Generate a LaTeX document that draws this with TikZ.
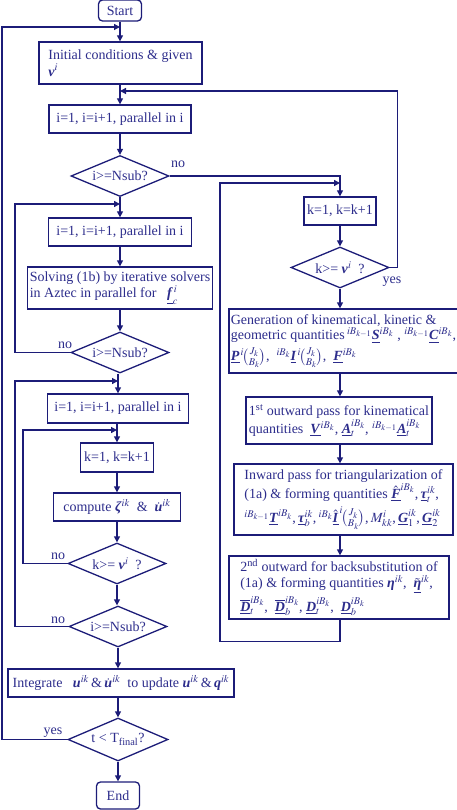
\documentclass[tikz,border=0pt]{standalone}
\usepackage{amsmath}
\usepackage{mathptmx}
\usepackage{fontspec}
\setmainfont{Liberation Serif}
\usetikzlibrary{arrows.meta,shapes.geometric}
\definecolor{navy}{RGB}{28,28,120}
\definecolor{txtc}{RGB}{45,45,140}
\newcommand\bv[1]{\underline{\textbf{\textit{#1}}}}
\newcommand\bi[1]{\textbf{\textit{#1}}}
\begin{document}
\begin{tikzpicture}[x=1pt,y=-1pt,
  every node/.style={text=txtc, font=\fontsize{14}{16.5}\selectfont},
  box/.style={draw=navy, line width=1.3pt, fill=white, inner sep=2pt},
  sbox/.style={box, rounded corners=4pt},
  dec/.style={diamond, draw=navy, line width=1.3pt, fill=white, aspect=2.4, inner sep=0pt, minimum width=98pt, minimum height=41pt},
  arr/.style={draw=navy, line width=1.3pt, -{Triangle[length=6pt,width=6pt]}},
  ]
\useasboundingbox (0,0) rectangle (456,810);
% left column
\node[sbox, minimum width=43pt, minimum height=21pt] (start) at (120,10.5) {Start};
\node[box, align=left, minimum width=163pt, minimum height=42pt] (init) at (120.5,63) {Initial conditions \& given\\$\bi{ν}^{i}$};
\node[box, minimum width=142pt, minimum height=28pt] (ib1) at (120,119) {i=1, i=i+1, parallel in i};
\node[dec] (d1) at (120,176) {i>=Nsub?};
\node[box, minimum width=143pt, minimum height=28pt] (ib2) at (120,232) {i=1, i=i+1, parallel in i};
\node[box, align=left, minimum width=184pt, minimum height=42pt] (solve) at (120,288) {Solving (1b) by iterative solvers\\in Aztec in parallel for \ \ $\bv{f}_{c}^{\,i}$};
\node[dec] (d2) at (120,352.5) {i>=Nsub?};
\node[box, minimum width=141pt, minimum height=29pt] (ib3) at (118,408.5) {i=1, i=i+1, parallel in i};
\node[box, minimum width=73pt, minimum height=29pt] (kb) at (117,457.5) {k=1, k=k+1};
\node[box, minimum width=127pt, minimum height=28pt] (comp) at (117,507) {compute $\bi{ζ}^{ik}$ \ \& \ $\dot{\bi{u}}^{ik}$};
\node[dec] (d3) at (117,563.5) {k>= $\bi{ν}^{i}$ \ ?};
\node[dec] (d4) at (118,626.5) {i>=Nsub?};
\node[box, minimum width=226pt, minimum height=28pt] (integ) at (121,683) {Integrate \ \ $\bi{u}^{ik}$\,\&\,$\dot{\bi{u}}^{ik}$ \ to update $\bi{u}^{ik}$\,\&\,$\bi{q}^{ik}$};
\node[dec, minimum width=100pt, minimum height=43pt] (d5) at (118,739.5) {t < T$_{\text{final}}$?};
\node[sbox, minimum width=43pt, minimum height=27pt] (end) at (118,795.5) {End};
% right column
\node[box, minimum width=72pt, minimum height=28pt] (kR) at (340,211) {k=1, k=k+1};
\node[dec] (dR) at (340,267.5) {k>= $\bi{ν}^{i}$ \ ?};
\node[box, align=left, minimum width=219pt, minimum height=64pt] (gen) at (343.5,341) {Generation of kinematical, kinetic \&\\[-1pt]geometric quantities\,${}^{iB_{k-1}}\bv{S}^{iB_k}$ , ${}^{iB_{k-1}}\bv{C}^{iB_k}$,\\[4pt]$\bv{P}^{\,i}\!\tbinom{J_k}{B_k}$, \ ${}^{iB_k}\bv{I}^{\,i}\!\tbinom{J_k}{B_k}$, \ $\bv{F}^{iB_k}$};
\node[box, align=left, minimum width=186pt, minimum height=47pt] (out1) at (339,420.5) {1\textsuperscript{st} outward pass for kinematical\\quantities \ $\bv{V}^{iB_k}$, $\bv{A}_t^{iB_k}$, ${}^{iB_{k-1}}\bv{A}_t^{iB_k}$};
\node[box, align=left, minimum width=219pt, minimum height=71pt] (inw) at (343.5,499.5) {Inward pass for triangularization of\\(1a) \& forming quantities $\hat{\bv{F}}^{iB_k}$,\,$\bv{τ}_t^{ik}$,\\[4pt]${}^{iB_{k-1}}\bv{T}^{iB_k}$,\,$\bv{τ}_b^{ik}$,\,${}^{iB_k}\hat{\bv{I}}^{\,i}\!\tbinom{J_k}{B_k}$,\,$M^{i}_{kk}$,\,$\bv{G}_1^{ik}$,\,$\bv{G}_2^{ik}$};
\node[box, align=left, minimum width=220pt, minimum height=63pt] (out2) at (339,587.5) {2\textsuperscript{nd} outward for backsubstitution of\\(1a) \& forming quantities $\bi{η}^{ik}$, \ $\tilde{\bv{η}}^{ik}$,\\[2pt]$\overline{\bv{D}}_t^{iB_k}$, \ $\overline{\bv{D}}_b^{iB_k}$, $\bv{D}_t^{iB_k}$, \ $\bv{D}_b^{iB_k}$};
% labels
\node (no1) at (178,164) {no};
\node (yesR) at (392,282) {yes};
\node (no2) at (65,345) {no};
\node (no3) at (58,556) {no};
\node (no4) at (58,620) {no};
\node (yes5) at (53,733) {yes};
% junction coordinates
\coordinate (j0) at (120,27);
\coordinate (j1) at (120,91);
\coordinate (j2) at (120,204);
\coordinate (j3) at (118,381);
\coordinate (j4) at (117,430);
\coordinate (jR) at (340,183);
% straight arrows
\draw[arr] (start.south) -- (start.south |- init.north);
\draw[arr] (init.south -| ib1) -- (ib1.north);
\draw[arr] (ib1.south) -- (d1.north);
\draw[arr] (d1.south) -- (ib2.north);
\draw[arr] (ib2.south) -- (solve.north);
\draw[arr] (solve.south) -- (d2.north);
\draw[arr] (d2.south -| ib3) -- (ib3.north);
\draw[arr] (ib3.south -| kb) -- (kb.north);
\draw[arr] (kb.south) -- (comp.north);
\draw[arr] (comp.south) -- (d3.north);
\draw[arr] (d3.south) -- (d3.south |- d4.north);
\draw[arr] (d4.south) -- (d4.south |- integ.north);
\draw[arr] (integ.south -| d5) -- (d5.north);
\draw[arr] (d5.south) -- (end.north);
\draw[arr] (kR.south) -- (dR.north);
\draw[arr] (dR.south) -- (dR.south |- gen.north);
\draw[arr] (gen.south -| dR) -- (out1.north -| dR);
\draw[arr] (out1.south -| dR) -- (inw.north -| dR);
\draw[arr] (inw.south -| dR) -- (out2.north -| dR);
% loops
\draw[arr] (d1.east) -| (kR.north);
\draw[arr] (out2.south -| dR) -- ++(0,22) -| (220,183) -- (jR);
\draw[arr] (dR.east) -- ++(8,0) |- (j1);
\draw[arr] (d2.west) -- (15,352.5) |- (j2);
\draw[arr] (d3.west) -- (23,563.5) |- (j4);
\draw[arr] (d4.west) -- (15,626.5) |- (j3);
\draw[arr] (d5.west) -- (2,739.5) |- (j0);
\end{tikzpicture}
\end{document}
